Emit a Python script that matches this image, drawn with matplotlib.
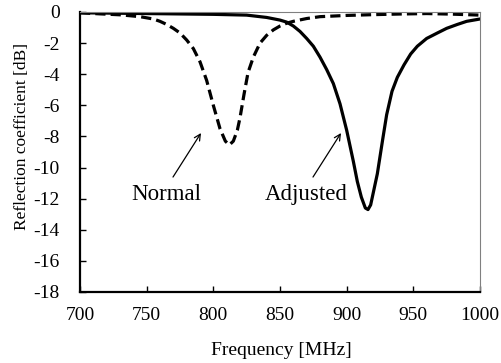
import matplotlib
matplotlib.use("Agg")
import matplotlib.pyplot as plt

plt.rcParams['font.family'] = ['Liberation Serif', 'DejaVu Serif']
plt.rcParams['axes.unicode_minus'] = False

# Normal antenna (dashed)
freq_normal = [700, 715, 730, 745, 755, 760, 765, 770, 775, 780, 785, 790, 795,
               800, 805, 809, 812, 815, 818, 820, 823, 826, 830, 835, 840, 845,
               850, 855, 860, 870, 880, 900, 920, 940, 960, 980, 1000]
s11_normal = [-0.05, -0.12, -0.18, -0.3, -0.45, -0.6, -0.8, -1.05, -1.35, -1.8,
              -2.35, -3.2, -4.4, -6.0, -7.5, -8.3, -8.55, -8.3, -7.6, -6.8, -5.3,
              -3.9, -2.9, -2.0, -1.5, -1.15, -0.9, -0.72, -0.6, -0.42, -0.3,
              -0.22, -0.17, -0.13, -0.1, -0.14, -0.2]

# Adjusted antenna (solid)
freq_adjusted = [700, 750, 800, 825, 840, 850, 855, 860, 865, 870, 875, 880, 885,
                 890, 895, 900, 905, 908, 911, 914, 916, 918, 920, 923, 927, 930,
                 934, 938, 943, 948, 953, 960, 968, 975, 983, 990, 1000]
s11_adjusted = [-0.05, -0.1, -0.15, -0.2, -0.35, -0.52, -0.65, -0.9, -1.25, -1.7,
                -2.2, -2.9, -3.7, -4.6, -5.9, -7.6, -9.6, -10.9, -11.9, -12.6,
                -12.7, -12.4, -11.6, -10.4, -8.2, -6.6, -5.1, -4.2, -3.4, -2.7,
                -2.2, -1.7, -1.35, -1.05, -0.8, -0.6, -0.45]

xticks = [700, 750, 800, 850, 900, 950, 1000]
yticks = list(range(-18, 1, 2))

fig = plt.figure(figsize=(5.01, 3.63), dpi=100)
ax = fig.add_axes([80 / 501, 1 - 292 / 363, 400 / 501, 280 / 363])

ax.plot(freq_adjusted, s11_adjusted, color='black', lw=2.3, solid_capstyle='round')
ax.plot(freq_normal, s11_normal, color='black', lw=2.3, linestyle=(0, (3.2, 1.6)))

ax.set_xlim(700, 1000)
ax.set_ylim(-18, 0)
ax.set_xticks(xticks)
ax.set_yticks(yticks)
ax.tick_params(direction='in', length=4, width=1, labelsize=14, color='black')
ax.tick_params(axis='x', pad=11)
ax.tick_params(axis='y', pad=14.5)

for side in ['left', 'bottom']:
    ax.spines[side].set_linewidth(1.6)
    ax.spines[side].set_color('black')
for side in ['top', 'right']:
    ax.spines[side].set_linewidth(0.8)
    ax.spines[side].set_color('#808080')

ax.set_xlabel('Frequency [MHz]', fontsize=14)
ax.set_ylabel('Reflection coefficient [dB]', fontsize=12.5)
ax.xaxis.set_label_coords(0.5025, -0.18)
ax.yaxis.set_label_coords(-0.125, 0.554)

arrow = dict(arrowstyle='->', color='black', lw=0.9, shrinkA=0, shrinkB=0,
             mutation_scale=11)
ax.annotate('', xy=(790.75, -7.78), xytext=(769.75, -10.61), arrowprops=arrow)
ax.annotate('', xy=(895.75, -7.78), xytext=(874.75, -10.61), arrowprops=arrow)
ax.text(764.9, -11.76, 'Normal', fontsize=16.5, ha='center', va='center')
ax.text(869.9, -11.76, 'Adjusted', fontsize=16.5, ha='center', va='center')

fig.savefig('out.png', dpi=100)
